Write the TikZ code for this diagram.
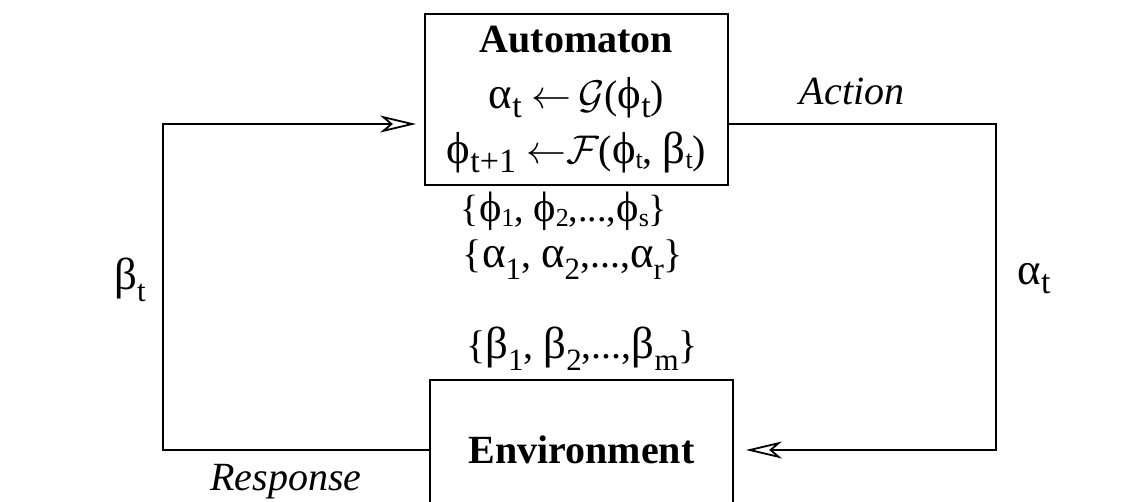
\documentclass[tikz,border=0pt]{standalone}
\usepackage{amsmath,amssymb}
\usepackage{graphicx}
\usepackage{fontspec}
\setmainfont{Liberation Serif}
\newfontfamily\grk[Scale=1.12]{Liberation Serif}
\usepackage{tikz}
\usetikzlibrary{positioning,arrows.meta}

\newcommand{\gk}[1]{{\grk #1}}
\newcommand{\lo}[1]{\raisebox{-9pt}{\fontsize{34}{34}\selectfont #1}}
\newcommand{\sm}[1]{\raisebox{-5pt}{\fontsize{26}{26}\selectfont #1}}
\newcommand{\md}[1]{\raisebox{-12pt}{\fontsize{31}{31}\selectfont #1}}
\newcommand{\mbig}[1]{\scalebox{4}{\fontsize{10}{12}\selectfont$#1$}}

\tikzset{
	box/.style = {draw, line width=1.8pt, inner sep=0pt, align=center},
	lbl/.style = {inner sep=0pt, anchor=base},
	arr/.style = {line width=1.8pt, -{Stealth[open,length=36pt,width=17pt,inset=10pt]}}
}

\begin{document}
\begin{tikzpicture}[x=1pt,y=-1pt,font=\fontsize{40}{48}\selectfont]
		\useasboundingbox (0,0) rectangle (1145,502);
		\node[box, minimum width=303pt, minimum height=171pt] (auto) at (576.5,99.5)
		{\textbf{Automaton}\\[8pt]
		 \gk{α}\lo{t} \mbig{\leftarrow}\,\mbig{\mathcal{G}}(\gk{ϕ}\lo{t})\\[7pt]
		 \gk{ϕ}\lo{t+1} \mbig{\leftarrow}\mbig{\mathcal{F}}(\gk{ϕ}\sm{t}, \gk{β}\sm{t})};
		\node[box, minimum width=303pt, minimum height=140pt] (env) at (581.5,450)
		{\textbf{Environment}};
		\coordinate (fbk) at (163,124);
		\coordinate (act) at (996,124);
		% labels
		\node[lbl] (action)   at (852,105)  {\textit{Action}};
		\node[lbl] (response) at (286,490) {\textit{Response}};
		\node[lbl] (beta)     at (130,290) {\gk{β}\md{t}};
		\node[lbl] (alpha)    at (1034,285) {\gk{α}\lo{t}};
		\node[lbl, font=\fontsize{38}{40}\selectfont] (phis) at (564,222)
		{\{\gk{ϕ}\sm{1}, \gk{ϕ}\sm{2},...,\gk{ϕ}\sm{s}\}};
		\node[lbl, font=\fontsize{40}{40}\selectfont] (alphas) at (573,268)
		{\{\gk{α}\md{1}, \gk{α}\md{2},...,\gk{α}\md{r}\}};
		\node[lbl, font=\fontsize{40}{40}\selectfont] (betas) at (582,358)
		{\{\gk{β}\md{1}, \gk{β}\md{2},...,\gk{β}\md{m}\}};
		% loop
		\draw[arr, shorten >=8pt] (env.west) -| (fbk) -- (auto.west |- fbk);
		\draw[arr, shorten >=12pt] (auto.east |- act) -- (act) |- (env.east);
\end{tikzpicture}
\end{document}
